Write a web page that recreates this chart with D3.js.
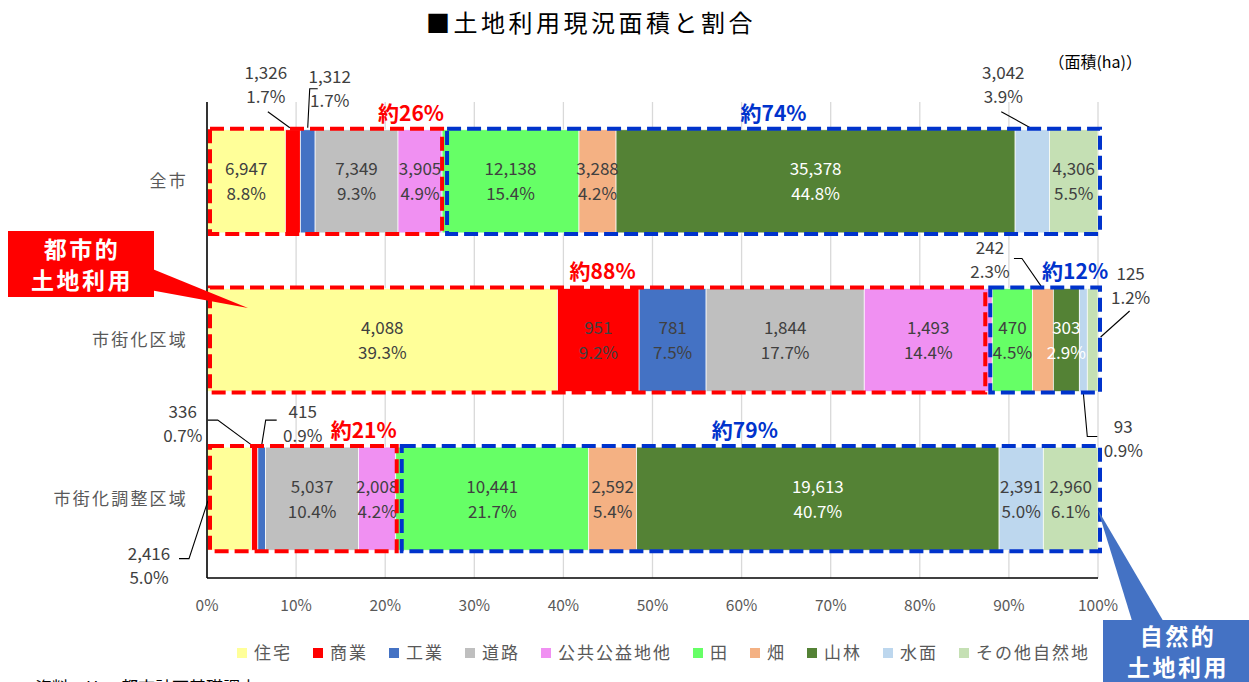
<!DOCTYPE html>
<html>
<head>
<meta charset="utf-8">
<script src="https://cdn.jsdelivr.net/npm/d3@7"></script>
<style>
  body { margin: 0; background: #fff; }
  svg { font-family: 'Noto Sans CJK JP', 'Noto Sans', sans-serif; }
</style>
</head>
<body>
<div id="chart"></div>
<script>
// land use categories and the three areas (ha)
const categories = ['住宅', '商業', '工業', '道路', '公共公益地他', '田', '畑', '山林', '水面', 'その他自然地'];
const colors = ['#FFFF99', '#FF0000', '#4472C4', '#BFBFBF', '#F090F2', '#66FF66', '#F4B183', '#548235', '#BDD7EE', '#C5E0B4'];
const rows = ['全市', '市街化区域', '市街化調整区域'];

const areaAll = [6947, 1326, 1312, 7349, 3905, 12138, 3288, 35378, 3042, 4306];
const areaUrban = [4088, 951, 781, 1844, 1493, 470, 242, 303, 93, 125];
const areaAdjust = [2416, 336, 415, 5037, 2008, 10441, 2592, 19613, 2391, 2960];

const pctAll = [8.8, 1.7, 1.7, 9.3, 4.9, 15.4, 4.2, 44.8, 3.9, 5.5];
const pctUrban = [39.3, 9.2, 7.5, 17.7, 14.4, 4.5, 2.3, 2.9, 0.9, 1.2];
const pctAdjust = [5.0, 0.7, 0.9, 10.4, 4.2, 21.7, 5.4, 40.7, 5.0, 6.1];

const urbanShare = ['約26%', '約88%', '約21%'];
const naturalShare = ['約74%', '約12%', '約79%'];
const xTicks = [0, 0.1, 0.2, 0.3, 0.4, 0.5, 0.6, 0.7, 0.8, 0.9, 1];

// first 5 categories = urban land use
const nUrban = 5;

// labels drawn outside the bar with a leader line (offsets from segment anchor)
const outside = [
  { row: 0, cat: 1, ax: 'c', ay: 'top', line: [[-3, -2], [-25, -18]], tx: -27, ty: -57 },
  { row: 0, cat: 2, ax: 'c', ay: 'top', line: [[0, -2], [2, -41], [10, -41]], tx: 22, ty: -53 },
  { row: 0, cat: 8, ax: 'c', ay: 'top', line: [[-2, -2], [-31, -18]], tx: -29, ty: -57 },
  { row: 1, cat: 6, ax: 'c', ay: 'top', line: [[-1, -1], [-21, -30], [-29, -30]], tx: -53, ty: -40 },
  { row: 1, cat: 8, ax: 'c', ay: 'bottom', line: [[0, 1], [4, 45], [14, 45]], tx: 40, ty: 35 },
  { row: 1, cat: 9, ax: 'c', ay: 'mid', line: [[8, -3], [37, -29]], tx: 38, ty: -66 },
  { row: 2, cat: 0, ax: 'l', ay: 'mid', line: [[1, 2], [-18, 60], [-28, 60]], tx: -58, ty: 55 },
  { row: 2, cat: 1, ax: 'c', ay: 'top', line: [[-3, -2], [-37, -27], [-47, -27]], tx: -72, ty: -35 },
  { row: 2, cat: 2, ax: 'c', ay: 'top', line: [[0, -2], [4, -27], [15, -27]], tx: 41, ty: -35 },
];

// placement of 約xx% labels and the split between the dashed boxes
const redLabelPos = [{ anchor: 'end', dx: 2 }, { anchor: 'middle', dx: 5 }, { anchor: 'end', dx: 0 }];
const blueLabelPos = [{ anchor: 'middle', dx: 0 }, { anchor: 'middle', dx: 30 }, { anchor: 'middle', dx: -6 }];
const boxShift = [1, -6, 2];

const width = 1249, height = 682;
const svg = d3.select('#chart').append('svg').attr('width', width).attr('height', height);

const x = d3.scaleLinear().domain([0, 1]).range([207, 1098]);
const y = d3.scaleBand().domain(rows).range([102, 578]).paddingInner(0.35).paddingOuter(0.175);

const areas = [areaAll, areaUrban, areaAdjust];
const pcts = [pctAll, pctUrban, pctAdjust];

const segs = [];
areas.forEach((vals, r) => {
  const total = d3.sum(vals);
  let cum = 0;
  vals.forEach((v, i) => {
    segs.push({ row: r, cat: i, v, p: pcts[r][i], x0: cum / total, x1: (cum + v) / total });
    cum += v;
  });
});

// title
svg.append('text')
  .attr('x', 591).attr('y', 32)
  .attr('text-anchor', 'middle')
  .attr('font-size', 24).attr('letter-spacing', 3.5)
  .attr('fill', '#000')
  .text('■土地利用現況面積と割合');

svg.append('text')
  .attr('x', 1142).attr('y', 68)
  .attr('text-anchor', 'end')
  .attr('font-size', 16).attr('fill', '#000')
  .text('（面積(ha)）');

// grid
svg.append('g')
  .selectAll('line')
  .data(xTicks.slice(1))
  .join('line')
  .attr('x1', (d) => x(d)).attr('x2', (d) => x(d))
  .attr('y1', 102).attr('y2', 578)
  .attr('stroke', '#D9D9D9').attr('stroke-width', 1.3);

// x tick labels
svg.append('g')
  .selectAll('text')
  .data(xTicks)
  .join('text')
  .attr('x', (d) => x(d)).attr('y', 611)
  .attr('text-anchor', 'middle')
  .attr('font-size', 15.5).attr('fill', '#595959')
  .text((d) => Math.round(d * 100) + '%');

// row labels
svg.append('g')
  .selectAll('text')
  .data(rows)
  .join('text')
  .attr('x', 188).attr('y', (d) => y(d) + y.bandwidth() / 2 + 6)
  .attr('text-anchor', 'end')
  .attr('font-size', 17).attr('letter-spacing', 2.2)
  .attr('fill', '#595959')
  .text((d) => d);

// bars
svg.append('g')
  .selectAll('rect')
  .data(segs)
  .join('rect')
  .attr('x', (d) => x(d.x0))
  .attr('y', (d) => y(rows[d.row]))
  .attr('width', (d) => x(d.x1) - x(d.x0))
  .attr('height', y.bandwidth())
  .attr('fill', (d) => colors[d.cat])
  .attr('stroke', '#fff').attr('stroke-width', 0.7);

// axis lines
svg.append('line').attr('x1', x(0)).attr('x2', x(0)).attr('y1', 102).attr('y2', 578)
  .attr('stroke', '#000').attr('stroke-width', 1.6);
svg.append('line').attr('x1', x(0)).attr('x2', x(1)).attr('y1', 578).attr('y2', 578)
  .attr('stroke', '#000').attr('stroke-width', 1.6);

// inside labels
const isOutside = (d) => outside.some((o) => o.row === d.row && o.cat === d.cat);
const inside = svg.append('g')
  .selectAll('g')
  .data(segs.filter((d) => !isOutside(d)))
  .join('g')
  .attr('transform', (d) => `translate(${(x(d.x0) + x(d.x1)) / 2},${y(rows[d.row]) + y.bandwidth() / 2})`);
inside.append('text')
  .attr('y', -12).attr('dy', '0.35em')
  .text((d) => d3.format(',')(d.v));
inside.append('text')
  .attr('y', 13).attr('dy', '0.35em')
  .text((d) => d.p.toFixed(1) + '%');
inside.selectAll('text')
  .attr('text-anchor', 'middle')
  .attr('font-size', 17)
  .attr('fill', function () {
    return d3.select(this.parentNode).datum().cat === 7 ? '#fff' : '#404040';
  });

// outside labels with leader lines
const segOf = (r, c) => segs.find((s) => s.row === r && s.cat === c);
outside.forEach((o) => {
  const s = segOf(o.row, o.cat);
  const top = y(rows[o.row]);
  const ax = o.ax === 'l' ? x(s.x0) : (x(s.x0) + x(s.x1)) / 2;
  const ay = o.ay === 'top' ? top : o.ay === 'bottom' ? top + y.bandwidth() : top + y.bandwidth() / 2;
  svg.append('path')
    .attr('d', d3.line()(o.line.map(([dx, dy]) => [ax + dx, ay + dy])))
    .attr('fill', 'none').attr('stroke', '#000').attr('stroke-width', 1.1);
  const t = svg.append('g').attr('transform', `translate(${ax + o.tx},${ay + o.ty})`);
  t.append('text').attr('dy', '0.35em').text(d3.format(',')(s.v));
  t.append('text').attr('y', 24).attr('dy', '0.35em').text(s.p.toFixed(1) + '%');
  t.selectAll('text').attr('text-anchor', 'middle').attr('font-size', 17).attr('fill', '#404040');
});

// dashed group boxes and 約xx% labels
rows.forEach((r, i) => {
  const vals = areas[i];
  const share = d3.sum(vals.slice(0, nUrban)) / d3.sum(vals);
  const split = x(share) + boxShift[i];
  const top = y(r) - 1;
  const h = y.bandwidth() + 2;
  const rx0 = x(0) + 3, rx1 = split - 1;
  const bx0 = split + 4, bx1 = x(1) + 2;

  svg.append('rect')
    .attr('x', rx0).attr('y', top).attr('width', rx1 - rx0).attr('height', h)
    .attr('fill', 'none').attr('stroke', '#FF0000').attr('stroke-width', 4)
    .attr('stroke-dasharray', '14,6');
  svg.append('rect')
    .attr('x', bx0).attr('y', top).attr('width', bx1 - bx0).attr('height', h)
    .attr('fill', 'none').attr('stroke', '#0033CC').attr('stroke-width', 4)
    .attr('stroke-dasharray', '14,6');

  const rp = redLabelPos[i];
  svg.append('text')
    .attr('x', (rp.anchor === 'end' ? rx1 : (rx0 + rx1) / 2) + rp.dx)
    .attr('y', y(r) - 9)
    .attr('text-anchor', rp.anchor)
    .attr('font-size', 21).attr('font-weight', 'bold')
    .attr('fill', '#FF0000')
    .text(urbanShare[i]);
  const bp = blueLabelPos[i];
  svg.append('text')
    .attr('x', (bx0 + bx1) / 2 + bp.dx)
    .attr('y', y(r) - 9)
    .attr('text-anchor', bp.anchor)
    .attr('font-size', 21).attr('font-weight', 'bold')
    .attr('fill', '#0033CC')
    .text(naturalShare[i]);
});

// callout: urban
svg.append('polygon')
  .attr('points', '150,268 248,308 150,290')
  .attr('fill', '#FF0000');
svg.append('rect')
  .attr('x', 8).attr('y', 231).attr('width', 146).attr('height', 66)
  .attr('fill', '#FF0000');
svg.append('text').attr('x', 82).attr('y', 258)
  .attr('text-anchor', 'middle').attr('font-size', 23).attr('font-weight', 'bold')
  .attr('letter-spacing', 2.5).attr('fill', '#fff').text('都市的');
svg.append('text').attr('x', 82).attr('y', 289)
  .attr('text-anchor', 'middle').attr('font-size', 23).attr('font-weight', 'bold')
  .attr('letter-spacing', 2.5).attr('fill', '#fff').text('土地利用');

// callout: natural
svg.append('polygon')
  .attr('points', '1098,510 1133,624 1165,624')
  .attr('fill', '#4472C4');
svg.append('rect')
  .attr('x', 1103).attr('y', 620).attr('width', 160).attr('height', 70)
  .attr('fill', '#4472C4');
svg.append('text').attr('x', 1178).attr('y', 645)
  .attr('text-anchor', 'middle').attr('font-size', 23).attr('font-weight', 'bold')
  .attr('letter-spacing', 2.5).attr('fill', '#fff').text('自然的');
svg.append('text').attr('x', 1178).attr('y', 676)
  .attr('text-anchor', 'middle').attr('font-size', 23).attr('font-weight', 'bold')
  .attr('letter-spacing', 2.5).attr('fill', '#fff').text('土地利用');

// legend
const legend = svg.append('g').attr('transform', 'translate(237,653)');
let lx = 0;
categories.forEach((c, i) => {
  const item = legend.append('g').attr('transform', `translate(${lx},0)`);
  item.append('rect').attr('x', 0).attr('y', -5).attr('width', 10).attr('height', 10).attr('fill', colors[i]);
  const t = item.append('text')
    .attr('x', 17).attr('dy', '0.36em')
    .attr('font-size', 17).attr('letter-spacing', 2)
    .attr('fill', '#595959')
    .text(c);
  lx += 17 + t.node().getComputedTextLength() + 21;
});

// source note (cut off at bottom)
svg.append('text')
  .attr('x', 35).attr('y', 694)
  .attr('font-size', 17).attr('fill', '#000')
  .text('資料：H24 都市計画基礎調査');
</script>
</body>
</html>
